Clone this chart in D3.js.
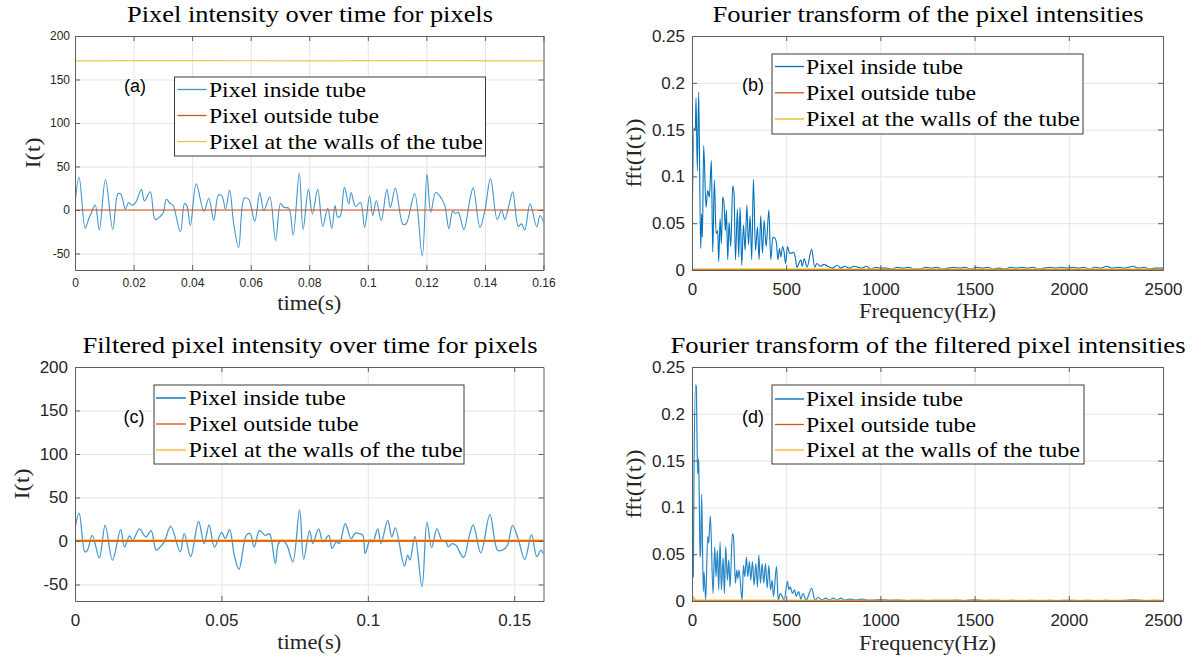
<!DOCTYPE html>
<html><head><meta charset="utf-8">
<script src="https://cdn.jsdelivr.net/npm/d3@7"></script>
<style>body{margin:0;background:#fff}svg{display:block}</style>
</head><body>
<svg id="chart" width="1202" height="662"></svg>
<script>
// ---------------- DATA ----------------
const seriesNames = ["Pixel inside tube", "Pixel outside tube", "Pixel at the walls of the tube"];
const panelTitles = ["Pixel intensity over time for pixels", "Fourier transform of the pixel intensities",
  "Filtered pixel intensity over time for pixels", "Fourier transform of the filtered pixel intensities"];
const panelTags = ["(a)", "(b)", "(c)", "(d)"];
const timeTicksA = [0, 0.02, 0.04, 0.06, 0.08, 0.1, 0.12, 0.14, 0.16];
const timeTicksC = [0, 0.05, 0.1, 0.15];
const intensityTicks = [-50, 0, 50, 100, 150, 200];
const freqTicks = [0, 500, 1000, 1500, 2000, 2500];
const fftTicks = [0, 0.05, 0.1, 0.15, 0.2, 0.25];

// (a) raw intensity, pixel inside tube [time s, I]
const insideRaw = [[0,7],[0.0014,37.6],[0.0035,-21],[0.0047,-10],[0.0055,-4],[0.0069,5.6],[0.0083,-23],[0.0104,35],[0.0129,-22.5],[0.0147,19],[0.0157,18],[0.0172,1],[0.0183,8.6],[0.0194,5.6],[0.0206,8],[0.0227,23.7],[0.0237,10.5],[0.0257,21],[0.0274,-11],[0.0291,-7.5],[0.0302,-2.6],[0.0312,12.4],[0.0325,7.5],[0.0334,6],[0.036,-25],[0.0374,7.5],[0.0382,5],[0.0394,-17.7],[0.0414,30],[0.044,-1.5],[0.0457,13.5],[0.0474,-12],[0.049,17.3],[0.0502,16],[0.0514,1],[0.0528,22.5],[0.0542,-15.8],[0.0559,-43],[0.0578,13.5],[0.0593,12.4],[0.0614,-12.8],[0.0631,20],[0.0645,-0.8],[0.0665,15],[0.0685,-35],[0.0702,7.5],[0.0713,3],[0.073,2],[0.0745,-29],[0.0766,42.5],[0.0779,-22.5],[0.0797,23.7],[0.0811,-4.5],[0.0829,23.7],[0.0846,-18.8],[0.0863,2],[0.0877,-21.4],[0.0888,5],[0.0897,-8],[0.0906,-7],[0.092,26],[0.0935,6.8],[0.0943,20],[0.0958,4],[0.0975,8.6],[0.0989,-20],[0.1006,16],[0.1017,-6.4],[0.1029,10.5],[0.1046,-12],[0.1065,23.7],[0.1077,3],[0.1094,24.8],[0.112,-16.5],[0.1131,-15.8],[0.116,18.8],[0.1186,-53],[0.1202,41],[0.1215,-2.6],[0.1232,20],[0.1251,13.5],[0.1263,5],[0.1277,-21.4],[0.129,-1.5],[0.13,-4],[0.1309,-2.6],[0.1328,-22.5],[0.1349,12.4],[0.136,25.6],[0.1383,-20],[0.14,0],[0.1419,36],[0.1442,-11],[0.1457,0],[0.1468,-11],[0.1483,7],[0.1495,21],[0.1514,-18.8],[0.1525,-16],[0.1536,-23],[0.1554,7],[0.1577,-19.5],[0.1588,-6.4],[0.16,-14]];
const outsideRaw = [[0,0],[0.16,0]];
const wallsRaw = [[0,171.5],[0.04,171.8],[0.08,171.3],[0.12,171.6],[0.16,171.4]];

// (c) filtered intensity
const insideFilt = [[0,14],[0.0014,32],[0.0034,-12.5],[0.0042,-11],[0.0059,6.5],[0.0083,-19.4],[0.0103,18],[0.0128,-22],[0.0156,13],[0.0169,-7],[0.0186,5.7],[0.0197,0.8],[0.022,14],[0.0236,6.5],[0.0243,4.6],[0.026,12],[0.0277,-10.6],[0.0291,-6.8],[0.0305,-1],[0.0327,16.7],[0.0359,-12.5],[0.0373,8.4],[0.0395,-18],[0.0422,22.4],[0.0441,-3],[0.0458,18.6],[0.0476,-7],[0.0501,10],[0.0513,2.7],[0.0528,13],[0.0544,-16.3],[0.056,-32.7],[0.0585,6.5],[0.0598,8.4],[0.0612,-7],[0.063,12],[0.065,6.5],[0.0664,8.4],[0.0684,-26],[0.0695,-3],[0.0709,0.8],[0.0724,-5],[0.0744,-24],[0.0767,35.7],[0.0781,-21],[0.0801,12],[0.0812,-3],[0.0832,14],[0.0847,-1],[0.0867,6.5],[0.0878,-8.7],[0.0892,-1],[0.0903,-3],[0.0923,19.8],[0.0943,2.7],[0.0957,9],[0.0972,8.4],[0.0983,6.5],[0.0991,-14.4],[0.1008,1.5],[0.1017,-1],[0.1034,14],[0.1045,-3],[0.1068,23.6],[0.1082,4.6],[0.1094,15],[0.1125,-29],[0.1136,-16.3],[0.1144,-22],[0.1161,5.3],[0.1185,-52.5],[0.1202,21.7],[0.1218,-7.6],[0.1236,14],[0.1253,0.8],[0.1267,-1],[0.1275,-6.8],[0.1288,-3],[0.1301,-5],[0.1327,-19],[0.1347,6.5],[0.136,18.6],[0.1386,-13.7],[0.1417,30.4],[0.1443,-10.6],[0.146,-10.6],[0.1477,-5],[0.1494,17.9],[0.1513,3],[0.1536,-21.3],[0.1559,7.2],[0.1577,-18],[0.1591,-10.6],[0.16,-15]];
const outsideFilt = [[0,0],[0.16,0]];
const wallsFilt = [[0,0.3],[0.16,0.3]];

// (b) FFT of raw intensities [Hz, |fft|]
const fftInsideRaw = [[0,0.03],[10.6,0.152],[17.7,0.149],[21.3,0.184],[28.4,0.106],[35.5,0.19],[46,0.023],[51.4,0.06],[55,0.035],[62,0.133],[74.5,0.067],[83.3,0.085],[92.2,0.078],[102.8,0.117],[110,0.019],[118.8,0.096],[127.7,0.039],[136.5,0.042],[141.8,0.009],[149,0.055],[156,0.028],[163,0.078],[170,0.071],[177,0.042],[182.6,0.064],[189.7,0.011],[196.8,0.051],[205.7,0.025],[216.3,0.09],[223.4,0.081],[230.5,0.011],[241,0.065],[248,0.014],[255,0.067],[264,0.005],[273,0.048],[282,0.021],[291,0.069],[300,0.027],[308.5,0.058],[317,0.011],[326,0.097],[337,0.021],[347.5,0.046],[356,0.011],[365,0.058],[374,0.018],[383,0.053],[393.6,0.025],[408,0.064],[418,0.011],[429,0.035],[440,0.034],[448.6,0.028],[455.7,0.011],[464.5,0.023],[471.6,0.014],[480.5,0.025],[489,0.019],[496.5,0.007],[507,0.025],[517.7,0.018],[528,0.018],[539,0.019],[548,0.014],[557,0.003],[567,0.007],[578,0.011],[585,0.004],[596,0.012],[610,0.003],[635,0.022],[651,0.003],[663,0.007],[681,0.004],[702,0.006],[720,0.004],[745,0.002],[770,0.005],[790,0.002],[810,0.004],[835,0.002],[860,0.004],[880,0.003],[900,0.002],[925,0.004],[950,0.001],[975,0.003],[1000,0.002],[1030,0.002],[1060,0.001],[1090,0.003],[1120,0.002],[1150,0.003],[1180,0.001],[1210,0.001],[1240,0.003],[1270,0.002],[1300,0.003],[1330,0.001],[1360,0.002],[1390,0.003],[1420,0.002],[1450,0.003],[1480,0.001],[1510,0.003],[1540,0.002],[1570,0.003],[1600,0.001],[1630,0.002],[1660,0.001],[1690,0.003],[1720,0.002],[1750,0.003],[1780,0.002],[1810,0.003],[1840,0.001],[1870,0.002],[1900,0.003],[1930,0.002],[1960,0.003],[1990,0.002],[2020,0.003],[2050,0.002],[2080,0.003],[2110,0.001],[2140,0.003],[2170,0.002],[2200,0.004],[2230,0.002],[2260,0.003],[2290,0.002],[2320,0.003],[2340,0.004],[2370,0.002],[2400,0.003],[2430,0.001],[2460,0.002],[2500,0.002]];
const fftOutsideRaw = [[0,0],[2500,0]];
const fftWallsRaw = [[0,0.0008],[2500,0.0008]];

// (d) FFT of filtered intensities
const fftInsideFilt = [[0,0.033],[7,0.026],[10.6,0.14],[19.5,0.231],[23,0.229],[26.6,0.176],[30,0.136],[35.5,0.152],[39,0.104],[42.6,0.047],[46,0.053],[51.4,0.114],[60,0.01],[64,0.031],[72.7,0.001],[83.3,0.069],[88.7,0.062],[97.5,0.091],[111.7,0.008],[120.6,0.058],[127.7,0.026],[134.8,0.054],[141.8,0.012],[149,0.063],[156,0.012],[165,0.046],[172,0.008],[179,0.058],[188,0.022],[195,0.044],[202,0.015],[214.5,0.072],[220,0.069],[230.5,0.019],[237.6,0.033],[243,0.024],[250,0.033],[266,0.001],[273,0.038],[280,0.026],[289,0.047],[296,0.026],[305,0.042],[312,0.022],[321,0.042],[330,0.017],[338.7,0.04],[347.5,0.015],[354.6,0.049],[363.5,0.019],[372,0.04],[381,0.019],[390,0.04],[399,0.014],[408,0.038],[416.7,0.012],[425.5,0.022],[432.6,0.005],[448.6,0.037],[457.4,0.001],[468,0.008],[478.7,0.005],[489,0.001],[507,0.021],[514,0.012],[521,0.015],[533.7,0.008],[544,0.012],[553,0.005],[565.6,0.01],[578,0.002],[588.7,0.008],[606,0.001],[635,0.0135],[652.5,0.001],[670,0.004],[690,0.001],[710,0.003],[730,0.001],[750,0.003],[770,0.001],[790,0.003],[810,0.001],[840,0.002],[870,0.001],[900,0.002],[930,0.001],[960,0.001],[1000,0.0015],[1050,0.0008],[1100,0.001],[1150,0.0005],[1200,0.0008],[1250,0.0005],[1300,0.0008],[1350,0.0006],[1400,0.0009],[1450,0.0005],[1500,0.0012],[1550,0.0005],[1600,0.0008],[1650,0.0004],[1700,0.0007],[1750,0.0004],[1800,0.0006],[1850,0.0004],[1900,0.0006],[1950,0.0005],[2000,0.0008],[2050,0.0004],[2100,0.0006],[2150,0.0004],[2200,0.0006],[2250,0.0004],[2300,0.0006],[2340,0.0012],[2400,0.0005],[2450,0.0006],[2500,0.0005]];
const fftOutsideFilt = [[0,0],[2500,0]];
const fftWallsFilt = [[0,0.001],[8,0.004],[15,0.001],[40,0.0005],[2500,0.0003]];

// ---------------- DRAWING ----------------
const C_IN = "#0072BD", C_OUT = "#D95319", C_WALL = "#EDB120";
const SERIF = "'Liberation Serif','Times New Roman',serif";
const SANS = "'Liberation Sans',Arial,Helvetica,sans-serif";
const svg = d3.select("#chart");
svg.append("rect").attr("width", 1202).attr("height", 662).attr("fill", "#fff");

function fit(sel, w) { sel.attr("textLength", w).attr("lengthAdjust", "spacingAndGlyphs"); }

function drawPanel(p, idx) {
  const x = d3.scaleLinear().domain(p.xd).range([p.x0, p.x1]);
  const y = d3.scaleLinear().domain(p.yd).range([p.y1, p.y0]);
  const g = svg.append("g");
  const cid = "clip" + idx;
  svg.append("clipPath").attr("id", cid).append("rect")
    .attr("x", p.x0).attr("y", p.y0).attr("width", p.x1 - p.x0).attr("height", p.y1 - p.y0);

  // grid
  g.append("g").attr("transform", `translate(0,${p.y1})`)
    .call(d3.axisBottom(x).tickValues(p.xt).tickSize(-(p.y1 - p.y0)).tickFormat(""))
    .call(s => { s.select(".domain").remove(); s.selectAll("line").attr("stroke", "#e4e4e4"); });
  g.append("g").attr("transform", `translate(${p.x0},0)`)
    .call(d3.axisLeft(y).tickValues(p.yt).tickSize(-(p.x1 - p.x0)).tickFormat(""))
    .call(s => { s.select(".domain").remove(); s.selectAll("line").attr("stroke", "#e4e4e4"); });

  // series (in drawing order)
  p.series.forEach(s => {
    g.append("path").datum(s.data).attr("clip-path", `url(#${cid})`)
      .attr("d", d3.line().x(d => x(d[0])).y(d => y(d[1])).curve(s.curve || d3.curveLinear))
      .attr("fill", "none").attr("stroke", s.color).attr("stroke-width", s.w)
      .attr("stroke-opacity", s.op || 1).attr("stroke-linejoin", "round");
  });

  // axes (ticks inward on all sides)
  const tickStyle = (s, fs) => {
    s.select(".domain").attr("stroke", "#5e5e5e");
    s.selectAll(".tick line").attr("stroke", "#5e5e5e");
    s.selectAll(".tick text").attr("fill", "#262626").attr("font-family", SANS).attr("font-size", fs);
  };
  g.append("g").attr("transform", `translate(0,${p.y1})`)
    .call(d3.axisBottom(x).tickValues(p.xt).tickSize(-5).tickSizeOuter(0).tickPadding(p.xpad).tickFormat(d => String(d)))
    .call(s => tickStyle(s, p.fs));
  g.append("g").attr("transform", `translate(0,${p.y0})`)
    .call(d3.axisTop(x).tickValues(p.xt).tickSize(-5).tickSizeOuter(0).tickFormat(""))
    .call(s => tickStyle(s, p.fs));
  g.append("g").attr("transform", `translate(${p.x0},0)`)
    .call(d3.axisLeft(y).tickValues(p.yt).tickSize(-5).tickSizeOuter(0).tickPadding(p.ypad).tickFormat(d => String(d)))
    .call(s => tickStyle(s, p.fs));
  g.append("g").attr("transform", `translate(${p.x1},0)`)
    .call(d3.axisRight(y).tickValues(p.yt).tickSize(-5).tickSizeOuter(0).tickFormat(""))
    .call(s => tickStyle(s, p.fs));

  // title
  g.append("text").attr("x", p.tx).attr("y", p.ty).attr("text-anchor", "middle")
    .attr("font-family", SERIF).attr("font-size", 24).attr("fill", "#000")
    .text(p.title).call(fit, p.tw);
  // x label
  g.append("text").attr("x", (p.x0 + p.x1) / 2).attr("y", p.xly).attr("text-anchor", "middle")
    .attr("font-family", SERIF).attr("font-size", 21).attr("fill", "#262626")
    .text(p.xlabel).call(fit, p.xlw);
  // y label
  g.append("text").attr("transform", `translate(${p.ylx},${(p.y0 + p.y1) / 2}) rotate(-90)`)
    .attr("text-anchor", "middle").attr("dy", "0.3em")
    .attr("font-family", SERIF).attr("font-size", 22).attr("fill", "#262626")
    .text(p.ylabel).call(fit, p.ylw);
  // tag
  g.append("text").attr("x", p.tagx).attr("y", p.tagy).attr("text-anchor", "middle").attr("dy", "0.35em")
    .attr("font-family", SANS).attr("font-size", 18).attr("fill", "#000").text(p.tag);

  // legend (in series-index order)
  const L = p.leg;
  g.append("rect").attr("x", L.x).attr("y", L.y).attr("width", L.w).attr("height", L.h)
    .attr("fill", "#fff").attr("stroke", "#3a3a3a").attr("stroke-width", 1);
  const textW = [157, 170, 274];
  const legendOrder = [...p.series].sort((a, b) => a.k - b.k);
  legendOrder.forEach((s, i) => {
    const cy = L.rows[i];
    g.append("line").attr("x1", L.lx0).attr("x2", L.lx1).attr("y1", cy).attr("y2", cy)
      .attr("stroke", s.color).attr("stroke-width", s.lw || 1.3).attr("stroke-opacity", s.lop || 1);
    g.append("text").attr("x", L.tx).attr("y", cy + 7.3)
      .attr("font-family", SERIF).attr("font-size", 22).attr("fill", "#000")
      .text(seriesNames[s.k]).call(fit, textW[s.k]);
  });
}

const mono = d3.curveMonotoneX, cat = d3.curveCatmullRom.alpha(0.5);
const panels = [
  { x0: 75, x1: 543.5, y0: 36, y1: 270, xd: [0, 0.16], yd: [-69, 200], xt: timeTicksA, yt: intensityTicks,
    fs: 12, xpad: 8, ypad: 5, title: panelTitles[0], tx: 310, ty: 22, tw: 366,
    xlabel: "time(s)", xly: 310, xlw: 64, ylabel: "I(t)", ylx: 33, ylw: 31, tag: panelTags[0], tagx: 135, tagy: 86,
    leg: { x: 174.5, y: 77, w: 311, h: 79, rows: [89.5, 115.5, 141.5], lx0: 177.5, lx1: 206.5, tx: 209 },
    series: [
      { k: 0, data: insideRaw, color: C_IN, w: 1.1, op: 0.75, curve: cat, lop: 0.75 },
      { k: 2, data: wallsRaw, color: C_WALL, w: 1.2, op: 0.8, lop: 0.8 },
      { k: 1, data: outsideRaw, color: C_OUT, w: 1.1 }
    ] },
  { x0: 692, x1: 1163, y0: 36, y1: 270, xd: [0, 2500], yd: [0, 0.25], xt: freqTicks, yt: fftTicks,
    fs: 17, xpad: 13, ypad: 7, title: panelTitles[1], tx: 928, ty: 22, tw: 431,
    xlabel: "Frequency(Hz)", xly: 317.5, xlw: 137, ylabel: "fft(I(t))", ylx: 634, ylw: 69, tag: panelTags[1], tagx: 753, tagy: 85,
    leg: { x: 772, y: 54, w: 311, h: 80, rows: [66.5, 92.8, 119], lx0: 775, lx1: 804, tx: 806 },
    series: [
      { k: 0, data: fftInsideRaw, color: C_IN, w: 1.1, curve: mono },
      { k: 2, data: fftWallsRaw, color: C_WALL, w: 1.5 },
      { k: 1, data: fftOutsideRaw, color: C_OUT, w: 1.2 }
    ] },
  { x0: 75, x1: 543.5, y0: 367, y1: 601, xd: [0, 0.16], yd: [-69, 200], xt: timeTicksC, yt: intensityTicks,
    fs: 17, xpad: 13, ypad: 7, title: panelTitles[2], tx: 310, ty: 352.5, tw: 455,
    xlabel: "time(s)", xly: 649, xlw: 64, ylabel: "I(t)", ylx: 22, ylw: 31, tag: panelTags[2], tagx: 134, tagy: 417,
    leg: { x: 154, y: 385, w: 310, h: 79, rows: [398, 424, 450], lx0: 156, lx1: 186, tx: 188.6 },
    series: [
      { k: 0, data: insideFilt, color: C_IN, w: 1.3, op: 0.72, curve: cat, lw: 2, lop: 0.7 },
      { k: 2, data: wallsFilt, color: C_WALL, w: 2.4, lw: 2.2, lop: 0.6 },
      { k: 1, data: outsideFilt, color: C_OUT, w: 1.4 }
    ] },
  { x0: 692, x1: 1163, y0: 367, y1: 601, xd: [0, 2500], yd: [0, 0.25], xt: freqTicks, yt: fftTicks,
    fs: 17, xpad: 13, ypad: 7, title: panelTitles[3], tx: 928, ty: 352.5, tw: 515,
    xlabel: "Frequency(Hz)", xly: 650, xlw: 137, ylabel: "fft(I(t))", ylx: 634, ylw: 69, tag: panelTags[3], tagx: 753, tagy: 417,
    leg: { x: 772, y: 385, w: 312, h: 79, rows: [399, 424.5, 450], lx0: 775, lx1: 804, tx: 806 },
    series: [
      { k: 0, data: fftInsideFilt, color: C_IN, w: 1.2, op: 0.85, curve: mono, lw: 2, lop: 0.7 },
      { k: 2, data: fftWallsFilt, color: C_WALL, w: 2, op: 0.8, curve: mono, lw: 2.2, lop: 0.6 },
      { k: 1, data: fftOutsideFilt, color: C_OUT, w: 1 }
    ] }
];
panels.forEach((p, i) => drawPanel(p, i));
</script>
</body></html>
